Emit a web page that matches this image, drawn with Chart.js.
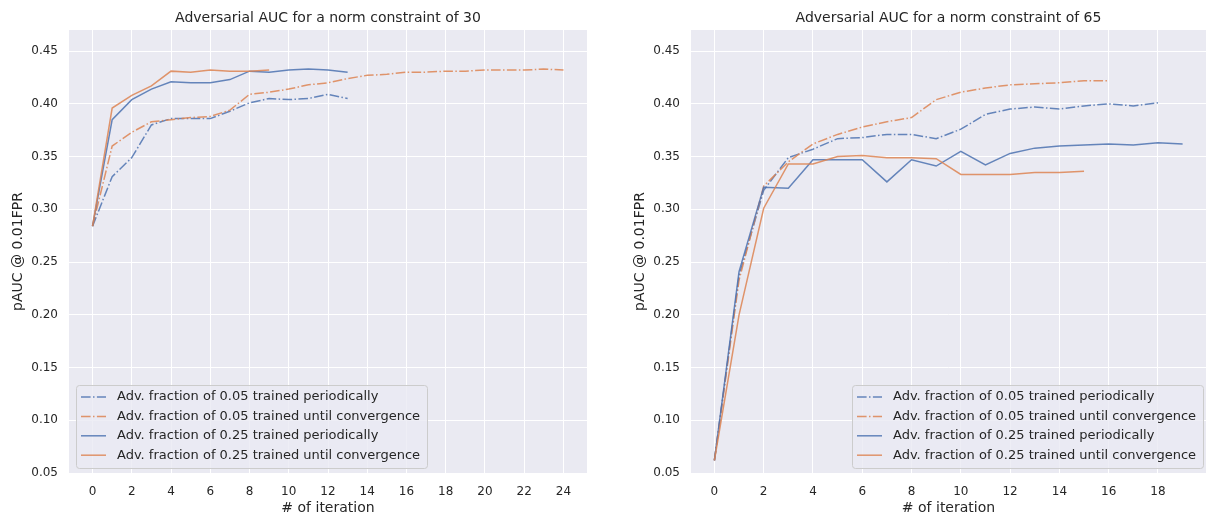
<!DOCTYPE html>
<html>
<head>
<meta charset="utf-8">
<script src="https://cdn.jsdelivr.net/npm/chart.js@4.4.1/dist/chart.umd.min.js"></script>
<style>
  body { margin: 0; background: #fff; }
  #leftChart { position: absolute; left: 0; top: 0; }
  #rightChart { position: absolute; left: 620px; top: 0; }
</style>
</head>
<body>
<canvas id="leftChart" width="600" height="517"></canvas>
<canvas id="rightChart" width="588" height="517"></canvas>
<script>
// norm constraint 30
const leftP05 = [0.284, 0.331, 0.349, 0.380, 0.386, 0.386, 0.386, 0.393, 0.401, 0.405, 0.404, 0.405, 0.409, 0.405];
const leftC05 = [0.284, 0.360, 0.373, 0.383, 0.385, 0.387, 0.388, 0.394, 0.409, 0.411, 0.414, 0.418, 0.420, 0.424, 0.427, 0.428, 0.430, 0.430, 0.431, 0.431, 0.432, 0.432, 0.432, 0.433, 0.432];
const leftP25 = [0.284, 0.385, 0.404, 0.414, 0.421, 0.420, 0.420, 0.423, 0.431, 0.430, 0.432, 0.433, 0.432, 0.430];
const leftC25 = [0.284, 0.396, 0.408, 0.417, 0.431, 0.430, 0.432, 0.431, 0.431, 0.432];

// norm constraint 65
const rightP05 = [0.062, 0.237, 0.318, 0.349, 0.357, 0.367, 0.368, 0.371, 0.371, 0.367, 0.376, 0.390, 0.395, 0.397, 0.395, 0.398, 0.400, 0.398, 0.401];
const rightC05 = [0.062, 0.233, 0.322, 0.345, 0.362, 0.371, 0.378, 0.383, 0.387, 0.404, 0.411, 0.415, 0.418, 0.419, 0.420, 0.422, 0.422];
const rightP25 = [0.062, 0.241, 0.321, 0.320, 0.347, 0.347, 0.347, 0.326, 0.347, 0.341, 0.355, 0.342, 0.353, 0.358, 0.360, 0.361, 0.362, 0.361, 0.363, 0.362];
const rightC25 = [0.062, 0.200, 0.301, 0.343, 0.343, 0.350, 0.351, 0.349, 0.349, 0.348, 0.333, 0.333, 0.333, 0.335, 0.335, 0.336];

const seriesLabels = [
  'Adv. fraction of 0.05 trained periodically',
  'Adv. fraction of 0.05 trained until convergence',
  'Adv. fraction of 0.25 trained periodically',
  'Adv. fraction of 0.25 trained until convergence'
];
const yTicks = [0.05, 0.10, 0.15, 0.20, 0.25, 0.30, 0.35, 0.40, 0.45];
const leftXTicks = [0, 2, 4, 6, 8, 10, 12, 14, 16, 18, 20, 22, 24];
const rightXTicks = [0, 2, 4, 6, 8, 10, 12, 14, 16, 18];

const BLUE = 'rgba(76, 114, 176, 0.85)';
const ORANGE = 'rgba(221, 132, 82, 0.85)';
const DASHDOT = [9.6, 2.4, 1.5, 2.4];
const FONT = '"DejaVu Sans", sans-serif';
const TEXT = '#262626';

const toPoints = arr => arr.map((v, i) => ({ x: i, y: v }));

function makeDatasets(p05, c05, p25, c25) {
  const styles = [
    { color: BLUE, dash: DASHDOT },
    { color: ORANGE, dash: DASHDOT },
    { color: BLUE, dash: [] },
    { color: ORANGE, dash: [] }
  ];
  return [p05, c05, p25, c25].map((arr, i) => ({
    label: seriesLabels[i],
    data: toPoints(arr),
    borderColor: styles[i].color,
    borderDash: styles[i].dash,
    borderWidth: 1.5,
    pointRadius: 0,
    fill: false,
    tension: 0,
    order: 3 - i
  }));
}

const bgPlugin = {
  id: 'bg',
  beforeDraw(chart) {
    const { ctx, chartArea: a } = chart;
    ctx.save();
    ctx.fillStyle = '#EAEAF2';
    ctx.fillRect(a.left, a.top, a.right - a.left, a.bottom - a.top);
    ctx.restore();
  }
};

// legend box drawn inside the plot, like matplotlib's
const boxLegend = {
  id: 'boxLegend',
  afterDatasetsDraw(chart, args, opts) {
    const { ctx, chartArea: a } = chart;
    const sets = chart.data.datasets;
    ctx.save();
    ctx.font = '13px ' + FONT;
    const textW = Math.max(...sets.map(d => ctx.measureText(d.label).width));
    const w = Math.round(41 + textW + 7), h = 83;
    const x = Math.round(opts.side === 'left' ? a.left + 7 : a.right - 3 - w);
    const y = Math.round(a.bottom - 5 - h);
    ctx.beginPath();
    ctx.roundRect(x + 0.5, y + 0.5, w, h, 3);
    ctx.fillStyle = 'rgba(234, 234, 242, 0.8)';
    ctx.fill();
    ctx.strokeStyle = '#cccccc';
    ctx.lineWidth = 1;
    ctx.stroke();
    sets.forEach((d, i) => {
      const cy = y + 12 + i * 19.4;
      ctx.beginPath();
      ctx.setLineDash(d.borderDash);
      ctx.moveTo(x + 5, cy);
      ctx.lineTo(x + 30, cy);
      ctx.strokeStyle = d.borderColor;
      ctx.lineWidth = d.borderWidth;
      ctx.stroke();
      ctx.setLineDash([]);
      ctx.fillStyle = TEXT;
      ctx.textBaseline = 'middle';
      ctx.fillText(d.label, x + 41, cy);
    });
    ctx.restore();
  }
};

function makeChart(id, title, datasets, xTicks, xMin, xMax, yWidth, yTitlePad, padRight, legendSide) {
  return new Chart(document.getElementById(id), {
    type: 'line',
    data: { datasets },
    plugins: [bgPlugin, boxLegend],
    options: {
      responsive: false,
      animation: false,
      layout: { padding: { left: 0, right: padRight, top: 0, bottom: 0 } },
      plugins: {
        legend: { display: false },
        tooltip: { enabled: false },
        boxLegend: { side: legendSide },
        title: {
          display: true,
          text: title,
          fullSize: false,
          color: TEXT,
          font: { family: FONT, size: 14, weight: 'normal' },
          padding: { top: 10, bottom: 3.2 }
        }
      },
      scales: {
        x: {
          type: 'linear',
          min: xMin,
          max: xMax,
          afterBuildTicks: s => { s.ticks = xTicks.map(v => ({ value: v })); },
          afterFit: s => { s.height = 44; },
          grid: { color: '#ffffff', lineWidth: 1, drawTicks: false },
          border: { display: false },
          ticks: { color: TEXT, padding: 12, maxRotation: 0, font: { family: FONT, size: 12 } },
          title: {
            display: true,
            text: '# of iteration',
            color: TEXT,
            font: { family: FONT, size: 14 },
            padding: { top: 0, bottom: 0 }
          }
        },
        y: {
          min: 0.05,
          max: 0.47,
          afterBuildTicks: s => { s.ticks = yTicks.map(v => ({ value: v })); },
          afterFit: s => { s.width = yWidth; },
          grid: { color: '#ffffff', lineWidth: 1, drawTicks: false },
          border: { display: false },
          ticks: {
            color: TEXT,
            padding: 11,
            font: { family: FONT, size: 12 },
            callback: v => v.toFixed(2)
          },
          title: {
            display: true,
            text: 'pAUC @ 0.01FPR',
            color: TEXT,
            font: { family: FONT, size: 14 },
            padding: { top: yTitlePad, bottom: 0 }
          }
        }
      }
    }
  });
}

makeChart('leftChart', 'Adversarial AUC for a norm constraint of 30',
  makeDatasets(leftP05, leftC05, leftP25, leftC25),
  leftXTicks, -1.2, 25.2, 69, 9.6, 13, 'left');

makeChart('rightChart', 'Adversarial AUC for a norm constraint of 65',
  makeDatasets(rightP05, rightC05, rightP25, rightC25),
  rightXTicks, -0.95, 19.95, 71, 11.6, 2, 'right');
</script>
</body>
</html>
